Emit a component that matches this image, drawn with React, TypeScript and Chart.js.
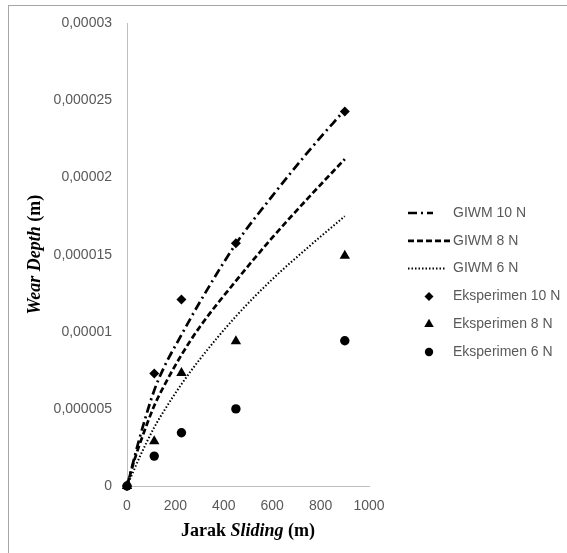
import React, { useEffect, useRef } from 'react';
import { Chart, registerables } from 'chart.js';

Chart.register(...registerables);

// Experimental data
const distances = [0, 112.5, 225, 450, 900];
const eksperimen10 = [0, 7.29e-6, 12.1e-6, 15.74e-6, 24.28e-6];
const eksperimen8 = [0, 2.91e-6, 7.33e-6, 9.38e-6, 14.94e-6];
const eksperimen6 = [0, 1.94e-6, 3.45e-6, 5.0e-6, 9.42e-6];

// GIWM model curves
const giwmX = [0, 25, 50, 112.5, 150, 225, 300, 450, 600, 750, 900];
const giwm10 = [0, 1.5e-6, 3.0e-6, 6.2e-6, 7.6e-6, 9.8e-6, 11.9e-6, 15.7e-6, 18.8e-6, 21.7e-6, 24.4e-6];
const giwm8 = [0, 1.4e-6, 2.6e-6, 5.2e-6, 6.4e-6, 8.5e-6, 10.3e-6, 13.3e-6, 16.1e-6, 18.7e-6, 21.2e-6];
const giwm6 = [0, 0.9e-6, 1.8e-6, 3.8e-6, 4.8e-6, 6.6e-6, 8.2e-6, 11.0e-6, 13.4e-6, 15.5e-6, 17.5e-6];

const xTickLabels = ['0', '200', '400', '600', '800', '1000'];
const yTickLabels = ['0', '0,000005', '0,00001', '0,000015', '0,00002', '0,000025', '0,00003'];

const seriesLabels = ['GIWM 10 N', 'GIWM 8 N', 'GIWM 6 N', 'Eksperimen 10 N', 'Eksperimen 8 N', 'Eksperimen 6 N'];

const DASH_DOT = [9, 4, 2, 4];
const DASHED = [6, 3];
const DOTTED = [1.5, 2];

type Seg = { t: string; f: string };

function drawRich(ctx: CanvasRenderingContext2D, segs: Seg[], cx: number, cy: number) {
  let total = 0;
  const widths = segs.map((s) => {
    ctx.font = s.f;
    const w = ctx.measureText(s.t).width;
    total += w;
    return w;
  });
  let x = cx - total / 2;
  ctx.textAlign = 'left';
  ctx.textBaseline = 'middle';
  segs.forEach((s, i) => {
    ctx.font = s.f;
    ctx.fillText(s.t, x, cy);
    x += widths[i];
  });
}

function drawMarker(ctx: CanvasRenderingContext2D, style: string, x: number, y: number, r: number) {
  ctx.beginPath();
  if (style === 'rectRot') {
    ctx.moveTo(x, y - r);
    ctx.lineTo(x + r, y);
    ctx.lineTo(x, y + r);
    ctx.lineTo(x - r, y);
  } else if (style === 'triangle') {
    const h = r * 1.5;
    const w = r * Math.sqrt(3) / 2;
    ctx.moveTo(x, y - r);
    ctx.lineTo(x + w, y - r + h);
    ctx.lineTo(x - w, y - r + h);
  } else {
    ctx.arc(x, y, r, 0, Math.PI * 2);
  }
  ctx.closePath();
  ctx.fill();
}

const overlay = {
  id: 'overlay',
  afterDraw(chart: any) {
    const ctx: CanvasRenderingContext2D = chart.ctx;
    const area = chart.chartArea;
    ctx.save();
    ctx.fillStyle = '#000';
    // X axis title
    const serifB = 'bold 18px "Liberation Serif", "Times New Roman", serif';
    const serifBI = 'italic bold 18px "Liberation Serif", "Times New Roman", serif';
    drawRich(
      ctx,
      [
        { t: 'Jarak ', f: serifB },
        { t: 'Sliding', f: serifBI },
        { t: ' (m)', f: serifB },
      ],
      (area.left + area.right) / 2,
      531
    );
    // Y axis title
    ctx.save();
    ctx.translate(35, (area.top + area.bottom) / 2);
    ctx.rotate(-Math.PI / 2);
    drawRich(
      ctx,
      [
        { t: 'Wear Depth', f: serifBI },
        { t: ' (m)', f: serifB },
      ],
      0,
      0
    );
    ctx.restore();

    // Legend
    const startY = 213;
    const step = 27.8;
    const sampleX = 408;
    const textX = 453;
    const markerX = 429;
    chart.data.datasets.forEach((ds: any, i: number) => {
      const y = startY + i * step;
      ctx.strokeStyle = '#000';
      ctx.fillStyle = '#000';
      if (ds.showLine) {
        const len = ds.legendLen || 42;
        ctx.save();
        ctx.lineWidth = ds.borderWidth;
        ctx.setLineDash(ds.borderDash || []);
        ctx.beginPath();
        ctx.moveTo(sampleX, y);
        ctx.lineTo(sampleX + len, y);
        ctx.stroke();
        ctx.restore();
      } else {
        drawMarker(ctx, ds.pointStyle, markerX, y, ds.legendRadius || 4.5);
      }
      ctx.fillStyle = '#595959';
      ctx.font = '14px "Liberation Sans", Arial, sans-serif';
      ctx.textAlign = 'left';
      ctx.textBaseline = 'middle';
      ctx.fillText(ds.label, textX, y);
    });
    ctx.restore();
  },
};

export default function App() {
  const canvasRef = useRef<HTMLCanvasElement | null>(null);

  useEffect(() => {
    const canvas = canvasRef.current;
    if (!canvas) return;
    const toPts = (xs: number[], ys: number[]) => xs.map((x, i) => ({ x, y: ys[i] }));
    const lineDs = (label: string, ys: number[], dash: number[], width: number, legendLen: number) => ({
      label,
      data: toPts(giwmX, ys),
      showLine: true,
      borderColor: '#000',
      backgroundColor: '#000',
      borderWidth: width,
      borderDash: dash,
      borderCapStyle: 'butt',
      pointRadius: 0,
      pointHoverRadius: 0,
      cubicInterpolationMode: 'monotone',
      fill: false,
      clip: false,
      legendLen,
    });
    const pointDs = (label: string, ys: number[], style: string, r: number) => ({
      label,
      data: toPts(distances, ys),
      showLine: false,
      pointStyle: style,
      pointRadius: r,
      pointHoverRadius: r,
      borderWidth: 0,
      borderColor: '#000',
      backgroundColor: '#000',
      clip: false,
      legendRadius: r - 0.5,
    });
    const chart = new Chart(canvas, {
      type: 'scatter',
      data: {
        datasets: [
          lineDs(seriesLabels[0], giwm10, DASH_DOT, 2.7, 25),
          lineDs(seriesLabels[1], giwm8, DASHED, 2.7, 42),
          lineDs(seriesLabels[2], giwm6, DOTTED, 2, 37),
          pointDs(seriesLabels[3], eksperimen10, 'rectRot', 5),
          pointDs(seriesLabels[4], eksperimen8, 'triangle', 6),
          pointDs(seriesLabels[5], eksperimen6, 'circle', 4.7),
        ] as any,
      },
      options: {
        animation: false,
        responsive: false,
        events: [],
        layout: { padding: { top: 22, right: 198, bottom: 0, left: 0 } },
        plugins: {
          legend: { display: false },
          tooltip: { enabled: false },
        },
        scales: {
          x: {
            type: 'linear',
            min: 0,
            max: 1000,
            grid: { display: false, drawTicks: false },
            border: { display: true, color: '#bfbfbf', width: 1 },
            ticks: {
              stepSize: 200,
              padding: 12,
              color: '#595959',
              font: { family: '"Liberation Sans", Arial, sans-serif', size: 14 },
              callback: (_v: any, i: number) => xTickLabels[i],
            },
            afterFit: (s: any) => {
              s.height = 67;
            },
          },
          y: {
            type: 'linear',
            min: 0,
            max: 0.00003,
            grid: { display: false, drawTicks: false },
            border: { display: true, color: '#bfbfbf', width: 1 },
            ticks: {
              stepSize: 0.000005,
              padding: 15,
              color: '#595959',
              font: { family: '"Liberation Sans", Arial, sans-serif', size: 14 },
              callback: (_v: any, i: number) => yTickLabels[i],
            },
            afterFit: (s: any) => {
              s.width = 127;
            },
          },
        },
      } as any,
      plugins: [overlay],
    });
    return () => chart.destroy();
  }, []);

  return (
    <div style={{ position: 'fixed', left: 0, top: 0, width: 567, height: 553, background: '#fff' }}>
      <div
        style={{
          position: 'absolute',
          left: 8,
          top: 5,
          width: 559,
          height: 548,
          borderTop: '1px solid #a6a6a6',
          borderLeft: '1px solid #a6a6a6',
          boxSizing: 'border-box',
        }}
      />
      <canvas ref={canvasRef} width={567} height={553} style={{ position: 'absolute', left: 0, top: 0 }} />
    </div>
  );
}
